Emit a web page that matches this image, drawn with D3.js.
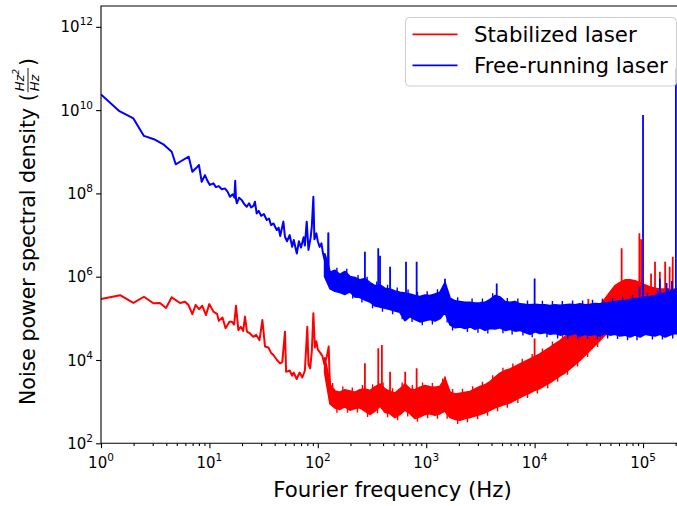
<!DOCTYPE html>
<html><head><meta charset="utf-8">
<script src="https://cdn.jsdelivr.net/npm/d3@7"></script>
<style>body{margin:0;background:#fff}svg{display:block}text{font-family:"DejaVu Sans",sans-serif;fill:#000}</style>
</head><body><svg id="c" width="677" height="506"></svg>
<script>
// ---------------- data ----------------
const xTickValues = [1, 10, 100, 1000, 10000, 100000];
const xTickLabels = ["0", "1", "2", "3", "4", "5"];
const yTickValues = [1e2, 1e4, 1e6, 1e8, 1e10, 1e12];
const yTickLabels = ["2", "4", "6", "8", "10", "12"];
const seriesNames = ["Stabilized laser", "Free-running laser"];
const seriesColors = ["#ff0000", "#0000ff"];

// Stabilized laser: low-frequency trace (Hz, Hz^2/Hz)
const stabFreq = [1,1.5,1.99,2.49,3.04,3.5,3.98,4.49,5.36,5.96,6.4,6.96,7.47,8.01,8.6,9.3,9.97,10.9,11.8,12.2,13.2,14.1,15.3,16.1,16.9,17.6,18.5,19.5,20.5,21.3,22.2,23.5,25.4,27,29,30.8,32.6,35,37,38.9,42,44.8,47,49.8,51,55,58,60,63.8,68,72,76,80,82,85,88,91,94,97,100,105,110,115,121,126,128,130,135];
const stabPsd = [2.9e5,3.6e5,2.34e5,3.3e5,2.3e5,2.34e5,1.78e5,3.2e5,2.34e5,2.5e5,2.1e5,1.26e5,2.1e5,1.66e5,2.0e5,1.2e5,2.2e5,1.45e5,1.26e5,8.7e4,1.05e5,5.8e4,8.3e4,8.3e4,7.1e4,2.0e5,5.2e4,6.3e4,5.0e4,1.1e5,4.8e4,4.4e4,3.6e4,4.0e4,3.0e4,9.1e4,2.1e4,2.0e4,1.5e4,1.32e4,1.0e4,8.3e3,8.9e3,4.8e4,5.2e3,5.6e3,4.2e3,5.0e3,3.5e3,5.0e3,3.8e3,5.6e3,6.3e4,7.9e3,6.3e3,1.58e4,1.32e5,2.0e4,2.8e4,1.78e4,1.5e4,1.26e4,7.9e3,1.2e4,2.1e4,5.0e3,2.3e3,1.12e3];

// Free-running laser: low-frequency trace
const freeFreq = [1,1.48,1.99,2.49,3.08,3.76,4.49,4.89,5.5,6.44,6.96,7.5,8.01,8.49,9.1,9.6,10.1,10.9,11.5,12.2,13,13.9,14.7,15.5,16.4,17,17.3,17.6,17.9,18.8,19.9,21,22.1,23.2,24.3,25.5,26.3,27.3,28.5,30,31.8,33.8,35.5,37,39,41.8,43.5,45,48.1,49.8,52,55,58,60,64,67,70,74,76,79,82,86,88,91,93,97,100,104,108,112,116,120,124,125,126,130];
const freePsd = [2.37e10,9.4e9,6.3e9,2.4e9,2.0e9,1.51e9,1.0e9,5.0e8,6.0e8,7.6e8,3.3e8,4.0e8,4.8e8,1.9e8,2.75e8,2.0e8,1.6e8,1.74e8,1.41e8,1.5e8,1.26e8,1.32e8,1.1e8,8.3e7,9.5e7,7.9e7,2.0e8,7.2e7,5.8e7,7.9e7,6.9e7,5.5e7,4.8e7,5.8e7,4.6e7,5.0e7,6.3e7,3.3e7,3.8e7,2.9e7,3.2e7,2.3e7,2.5e7,1.74e7,1.9e7,1.32e7,1.5e7,9.5e6,2.1e7,9.1e6,7.1e6,1.0e7,5.2e6,7.6e6,3.6e6,7.1e6,5.0e6,8.9e6,5.6e6,2.1e7,4.4e6,8.9e6,1.6e7,8.3e7,7.9e6,1.1e7,7.1e6,5.2e6,6.3e6,3.5e6,2.5e6,1.8e6,1.26e6,1.1e7,1.0e6,7.9e5];

// Dense noisy region: frequencies and lower / upper envelope of each trace
const bandFreq = [116,130,144,160,178,198,220,245,272,303,337,375,417,464,515,573,637,709,788,877,975,1084,1205,1340,1490,1660,1845,2050,2280,2535,2820,3135,3485,3880,4315,4800,5330,5930,6590,7330,8150,9070,10090,11200,12470,13870,15420,17140,19060,21220,23600,26240,29170,32440,36070,40110,44600,49630,55190,61370,68240,75880,84380,93830,104300,116100,129100,143500,159600,177500,197300,219300];
const stabLow = [5.0e3,8.9e2,7.1e2,6.6e2,7.6e2,6.3e2,6.9e2,7.2e2,6.0e2,5.0e2,6.0e2,7.9e2,5.6e2,5.2e2,4.2e2,5.0e2,6.3e2,5.2e2,4.0e2,4.4e2,5.0e2,5.2e2,4.8e2,5.2e2,6.0e2,4.2e2,3.8e2,3.6e2,4.0e2,4.2e2,4.6e2,5.0e2,5.5e2,6.3e2,7.2e2,7.9e2,8.7e2,9.5e2,1.1e3,1.26e3,1.45e3,1.66e3,1.91e3,2.1e3,2.5e3,2.9e3,3.5e3,4.2e3,5.0e3,6.3e3,7.9e3,1.0e4,1.32e4,1.74e4,2.3e4,3.0e4,4.0e4,5.0e4,5.8e4,6.3e4,6.6e4,6.9e4,6.9e4,6.3e4,6.3e4,6.0e4,5.8e4,5.8e4,5.5e4,5.2e4,5.2e4,5.0e4];
const stabHigh = [1.12e4,2.5e3,1.78e3,1.66e3,1.91e3,1.78e3,1.66e3,1.91e3,2.0e3,1.82e3,2.24e3,2.63e3,2.0e3,1.74e3,1.58e3,2.0e3,2.63e3,2.0e3,1.91e3,2.2e3,2.4e3,2.24e3,2.2e3,2.3e3,3.55e3,1.66e3,1.51e3,1.58e3,1.66e3,1.74e3,2.0e3,2.3e3,2.5e3,3.0e3,3.8e3,4.8e3,5.5e3,6.0e3,6.9e3,7.9e3,9.1e3,1.05e4,1.2e4,1.38e4,1.66e4,2.0e4,2.4e4,2.9e4,3.6e4,4.4e4,5.5e4,6.9e4,8.7e4,1.1e5,1.45e5,2.0e5,2.9e5,4.2e5,6.0e5,7.2e5,8.3e5,8.3e5,7.9e5,7.1e5,6.3e5,5.6e5,5.2e5,5.0e5,5.0e5,4.8e5,5.0e5,5.0e5];
const freeLow = [1.0e6,5.2e5,4.5e5,4.2e5,3.8e5,4.4e5,3.3e5,3.2e5,2.8e5,2.5e5,2.0e5,1.9e5,1.78e5,1.66e5,1.51e5,1.41e5,8.9e4,1.12e5,9.5e4,8.3e4,8.9e4,9.5e4,8.7e4,1.0e5,1.41e5,7.1e4,6.0e4,6.3e4,5.8e4,6.3e4,5.5e4,6.0e4,5.2e4,5.8e4,5.6e4,6.0e4,5.2e4,5.5e4,5.0e4,5.2e4,4.6e4,4.2e4,4.8e4,4.4e4,4.6e4,4.2e4,4.4e4,4.0e4,4.2e4,4.0e4,4.4e4,3.8e4,4.2e4,4.0e4,4.2e4,3.8e4,4.4e4,4.0e4,4.2e4,3.8e4,4.0e4,3.6e4,4.0e4,3.6e4,4.2e4,4.0e4,3.8e4,4.2e4,3.6e4,4.0e4,4.4e4,4.2e4];
const freeHigh = [3.5e6,1.26e6,1.41e6,1.12e6,1.32e6,1.0e6,9.5e5,8.3e5,8.9e5,7.1e5,6.0e5,6.3e5,5.2e5,5.0e5,4.5e5,4.2e5,4.0e5,3.8e5,3.5e5,3.3e5,3.6e5,3.5e5,3.8e5,4.2e5,7.1e5,3.0e5,2.6e5,2.5e5,2.4e5,2.4e5,2.3e5,2.34e5,2.4e5,2.8e5,3.5e5,3.2e5,2.5e5,2.4e5,2.5e5,2.2e5,2.14e5,2.1e5,2.14e5,2.1e5,2.1e5,2.0e5,2.1e5,2.04e5,2.1e5,2.14e5,2.1e5,2.2e5,2.1e5,2.14e5,2.24e5,2.2e5,2.3e5,2.4e5,2.5e5,2.6e5,2.6e5,2.8e5,2.9e5,3.0e5,3.2e5,3.3e5,3.5e5,3.8e5,4.0e5,4.4e5,4.8e5,5.0e5];

// Narrow spectral lines standing out of the noisy region (Hz, peak value)
const stabSpikeFreq = [272,361,390,464,640,816,1490,10000,31300,63500,92500,96000,118600,129000,143000,160000,176000,188000];
const stabSpikeTop = [8.3e3,1.91e4,2.3e4,5.2e3,5.2e3,6.3e3,4.0e3,3.3e4,2.9e5,4.8e6,1.1e7,7.9e6,1.2e6,2.3e6,1.32e6,2.3e6,1.74e6,3.0e6];
const freeSpikeFreq = [272,361,375,464,651,816,1490,4470,10000,93000,100000,143000,165000,185000,201000];
const freeSpikeTop = [4.0e6,4.8e6,3.2e6,1.74e6,2.3e6,2.3e6,8.9e5,6.9e5,9.1e5,5.8e5,7.6e9,9.1e5,7.1e5,7.9e5,1.0e11];

// Small excursions at the ragged edges of the noisy region (Hz, tip value)
const stabRippleFreq = [137,150,170,188,208,232,258,288,320,355,400,440,490,545,600,675,745,830,925,1030,1140,1270,1420,1560,1750,1950,2160,2400,2680,2980,3300,3680,4100,4550,5100,5600,6300,7000,7700,8600,9500,10600,11800,13200,14600,16300,18100,20100,22400,24900,27700,30800,34300,38100,42300,47100];
const stabRippleTip = [2.8e3,5.4e2,2.3e3,5.4e2,2.2e3,5.5e2,2.5e3,4.3e2,2.6e3,5.3e2,2.9e3,4.2e2,2.1e3,3.6e2,2.9e3,4.4e2,2.5e3,3.3e2,2.9e3,4.0e2,2.8e3,3.9e2,3.6e3,3.9e2,2.0e3,2.9e2,2.05e3,3.2e2,2.35e3,3.8e2,3.0e3,4.6e2,4.3e3,5.9e2,6.5e3,7.1e2,8.2e3,9.3e2,1.07e4,1.22e3,1.4e4,1.58e3,1.9e4,2.1e3,2.8e4,3.0e3,4.0e4,4.4e3,6.3e4,7.0e3,9.8e4,1.18e4,1.6e5,2.05e4,3.0e5,3.5e4];
const freeRippleFreq = [150,185,210,235,255,285,320,350,395,440,490,540,600,680,740,830,920,1020,1140,1270,1560,1750,1950,2400,2650,3000,3300,3700,4100,5100,5600,6200,7000,7800,8600,9500,11800,13000,14600,16300,18000,20200,22400,25000,27700,30800,34200,38000,42300,47100,52300,58200,64800,72000,80000,88000,110000,122000,136000,151000,170000,188000,210000];
const freeRippleTip = [1.65e6,1.55e6,3.0e5,1.1e6,2.4e5,1.0e6,1.75e5,7.7e5,1.45e5,6.4e5,1.25e5,5.5e5,9.5e4,4.9e5,8.2e4,4.3e5,6.8e4,4.5e5,7.1e4,5.0e5,8.0e4,5.1e4,3.2e5,4.7e4,3.0e5,4.5e4,3.0e5,4.3e4,4.0e5,4.4e4,3.1e5,4.1e4,3.0e5,3.9e4,2.7e5,3.5e4,2.65e5,3.5e4,2.6e5,3.3e4,2.6e5,3.2e4,2.7e5,3.2e4,2.7e5,3.2e4,2.8e5,3.1e4,2.85e5,3.3e4,3.1e5,3.2e4,3.3e5,3.0e4,3.6e5,3.0e4,4.1e5,3.1e4,4.6e5,3.1e4,5.3e5,3.3e4,6.2e5];

// ---------------- drawing ----------------
const svg = d3.select("#c");
const L = 101, R = 680, T = 6, B = 443.3;
const x = d3.scaleLog().domain([1, 2.193e5]).range([L, R]);
const y = d3.scaleLog().domain([1e2, 3.16e12]).range([B, T]);

svg.append("defs").append("clipPath").attr("id", "clip")
  .append("rect").attr("x", L).attr("y", T).attr("width", R - L).attr("height", B - T);
const plot = svg.append("g").attr("clip-path", "url(#clip)");

const line = d3.line().x(d => x(d[0])).y(d => y(d[1]));
const area = d3.area().x(d => x(d[0])).y0(d => y(d[1])).y1(d => y(d[2]));
const bis = d3.bisector(d => d[0]).left;

function strokes(band, fs, tips, color, w) {
  fs.forEach((f, i) => {
    const j = Math.min(band.length - 1, bis(band, f));
    const base = Math.sqrt(band[j][1] * band[j][2]);
    plot.append("path").datum([[f, base], [f, tips[i]]]).attr("d", line)
      .attr("fill", "none").attr("stroke", color).attr("stroke-width", w);
  });
}

function drawSeries(freq, psd, low, high, spF, spT, rpF, rpT, color) {
  const band = bandFreq.map((f, i) => [f, low[i], high[i]]);
  plot.append("path").datum(band).attr("d", area)
    .attr("fill", color).attr("stroke", color).attr("stroke-width", 2).attr("stroke-linejoin", "round");
  plot.append("path").datum(freq.map((f, i) => [f, psd[i]])).attr("d", line)
    .attr("fill", "none").attr("stroke", color).attr("stroke-width", 2).attr("stroke-linejoin", "round");
  strokes(band, rpF, rpT, color, 1.4);
  strokes(band, spF, spT, color, 1.8);
}
drawSeries(stabFreq, stabPsd, stabLow, stabHigh, stabSpikeFreq, stabSpikeTop, stabRippleFreq, stabRippleTip, seriesColors[0]);
drawSeries(freeFreq, freePsd, freeLow, freeHigh, freeSpikeFreq, freeSpikeTop, freeRippleFreq, freeRippleTip, seriesColors[1]);

// axes
const minorX = x.ticks().filter(v => !xTickValues.includes(v));
svg.append("g").attr("transform", `translate(0,${B})`)
  .call(d3.axisBottom(x).tickValues(xTickValues).tickSize(4.9).tickFormat(""))
  .call(g => g.select(".domain").remove());
svg.append("g").attr("transform", `translate(0,${B})`)
  .call(d3.axisBottom(x).tickValues(minorX).tickSize(2.8).tickFormat(""))
  .call(g => g.select(".domain").remove());
svg.append("g").attr("transform", `translate(${L},0)`)
  .call(d3.axisLeft(y).tickValues(yTickValues).tickSize(4.9).tickFormat(""))
  .call(g => g.select(".domain").remove());
svg.selectAll(".tick line").attr("stroke", "#000").attr("stroke-width", 1.1);

// spines
svg.append("path").attr("d", `M${R},${T}H${L}V${B}H${R}`)
  .attr("fill", "none").attr("stroke", "#000").attr("stroke-width", 1.1);

// tick labels
xTickValues.forEach((v, i) => {
  const t = svg.append("text").attr("x", x(v)).attr("y", 468).attr("text-anchor", "middle")
    .attr("font-size", 15);
  t.append("tspan").text("10");
  t.append("tspan").attr("font-size", 10.5).attr("dy", -7).text(xTickLabels[i]);
});
yTickValues.forEach((v, i) => {
  const t = svg.append("text").attr("x", 93).attr("y", y(v) + 5.5).attr("text-anchor", "end")
    .attr("font-size", 15);
  t.append("tspan").text("10");
  t.append("tspan").attr("font-size", 10.5).attr("dy", -7).text(yTickLabels[i]);
});

// axis labels
svg.append("text").attr("x", 392.5).attr("y", 497).attr("text-anchor", "middle")
  .attr("font-size", 21.3).text("Fourier frequency (Hz)");

const yl = svg.append("g").attr("transform", "translate(35,215) rotate(-90)");
const t1 = yl.append("text").attr("x", -190).attr("y", 0).attr("font-size", 20.5)
  .text("Noise power spectral density (");
const w1 = t1.node().getComputedTextLength();
const fx = -190 + w1 + 1;
const num = yl.append("text").attr("x", fx + 1).attr("y", -11).attr("font-size", 13).attr("font-style", "italic");
num.append("tspan").text("Hz");
num.append("tspan").attr("font-size", 9).attr("dy", -5).text("2");
const nw = num.node().getComputedTextLength();
yl.append("line").attr("x1", fx).attr("x2", fx + nw + 2).attr("y1", -7).attr("y2", -7)
  .attr("stroke", "#000").attr("stroke-width", 0.9);
yl.append("text").attr("x", fx + 1).attr("y", 4).attr("font-size", 13).attr("font-style", "italic").text("Hz");
yl.append("text").attr("x", fx + nw + 4).attr("y", 0).attr("font-size", 20.5).text(")");

// legend
const lg = svg.append("g");
lg.append("rect").attr("x", 405.5).attr("y", 17.5).attr("width", 271).attr("height", 68.5).attr("rx", 4)
  .attr("fill", "#fff").attr("fill-opacity", 0.8).attr("stroke", "#cccccc").attr("stroke-width", 1);
seriesNames.forEach((n, i) => {
  const yy = 34.3 + i * 31;
  lg.append("line").attr("x1", 412.5).attr("x2", 457.5).attr("y1", yy).attr("y2", yy)
    .attr("stroke", seriesColors[i]).attr("stroke-width", 1.8);
  lg.append("text").attr("x", 474).attr("y", yy + 7.5).attr("font-size", 21.3).text(n);
});
</script></body></html>
